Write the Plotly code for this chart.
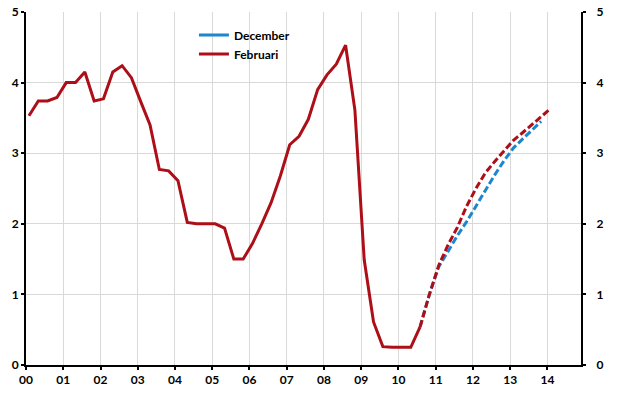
import plotly.graph_objects as go

# Quarterly data, first quarter 2000Q1 (index 0)
tick_labels = ["00", "01", "02", "03", "04", "05", "06", "07", "08", "09", "10", "11", "12", "13", "14"]

history = [3.53, 3.74, 3.74, 3.79, 4.00, 4.00, 4.15, 3.74, 3.77, 4.15, 4.24, 4.07,
           3.73, 3.40, 2.77, 2.75, 2.61, 2.02, 2.00, 2.00, 2.00, 1.94, 1.50, 1.50,
           1.72, 2.00, 2.30, 2.68, 3.12, 3.24, 3.48, 3.90, 4.11, 4.26, 4.53, 3.61,
           1.49, 0.61, 0.26, 0.25, 0.25, 0.25, 0.54]
forecast_start = 42  # 2010Q3
feb_forecast = [0.54, 1.00, 1.41, 1.70, 1.95, 2.25, 2.50, 2.72, 2.88, 3.03, 3.18, 3.29, 3.40, 3.52, 3.63]
dec_forecast = [0.54, 1.00, 1.39, 1.62, 1.83, 2.03, 2.25, 2.48, 2.69, 2.89, 3.07, 3.20, 3.33, 3.45]

RED = "#AD0F18"
BLUE = "#1C86CF"
OFFSET = 0.08


def qx(start, n):
    return [(start + i) / 4 + OFFSET for i in range(n)]


fig = go.Figure()

# legend entries
fig.add_trace(go.Scatter(x=[None], y=[None], mode="lines", name="December",
                         line=dict(color=BLUE, width=3)))
fig.add_trace(go.Scatter(x=qx(0, len(history)), y=history, mode="lines", name="Februari",
                         line=dict(color=RED, width=3)))

fig.add_trace(go.Scatter(x=qx(forecast_start, len(dec_forecast)), y=dec_forecast, mode="lines",
                         showlegend=False, line=dict(color=BLUE, width=3, dash="7px,3px")))
fig.add_trace(go.Scatter(x=qx(forecast_start, len(feb_forecast)), y=feb_forecast, mode="lines",
                         showlegend=False, line=dict(color=RED, width=3, dash="7px,3px")))

# invisible trace for the right axis
fig.add_trace(go.Scatter(x=[None], y=[None], yaxis="y2", showlegend=False, hoverinfo="skip"))

tickfont = dict(family="Lato", size=12, color="black", weight="bold")

fig.update_layout(
    width=640, height=396,
    margin=dict(l=26, r=59, t=12, b=31, pad=0),
    paper_bgcolor="white", plot_bgcolor="white",
    font=dict(family="Lato", color="black"),
    xaxis=dict(range=[0, 14.9], tickvals=list(range(len(tick_labels))), ticktext=tick_labels,
               showgrid=True, gridcolor="#D9D9D9", gridwidth=1, zeroline=False,
               showline=True, linecolor="black", linewidth=2, automargin=False,
               ticks="outside", ticklen=3, tickcolor="black", tickwidth=2,
               tickfont=tickfont, ticklabeloverflow="allow"),
    yaxis=dict(range=[0, 5], dtick=1, showgrid=True, gridcolor="#D9D9D9", gridwidth=1,
               zeroline=False, showline=True, linecolor="black", linewidth=2, automargin=False,
               ticks="outside", ticklen=3, tickcolor="black", tickwidth=2,
               tickfont=tickfont, ticklabeloverflow="allow"),
    yaxis2=dict(range=[0, 5], dtick=1, overlaying="y", side="right", showgrid=False,
                zeroline=False, showline=True, linecolor="black", linewidth=2, automargin=False,
                ticks="outside", ticklen=3, tickcolor="black", tickwidth=2,
                tickfont=tickfont, ticklabelstandoff=8, ticklabeloverflow="allow"),
    legend=dict(x=0.3026, y=0.976, xanchor="left", yanchor="top",
                bgcolor="rgba(0,0,0,0)", font=dict(family="Lato", size=12, color="black", weight="bold"),
                tracegroupgap=0),
)

fig.write_html("out.html", config={"displayModeBar": False},
               post_script="document.body.style.margin='0';")
